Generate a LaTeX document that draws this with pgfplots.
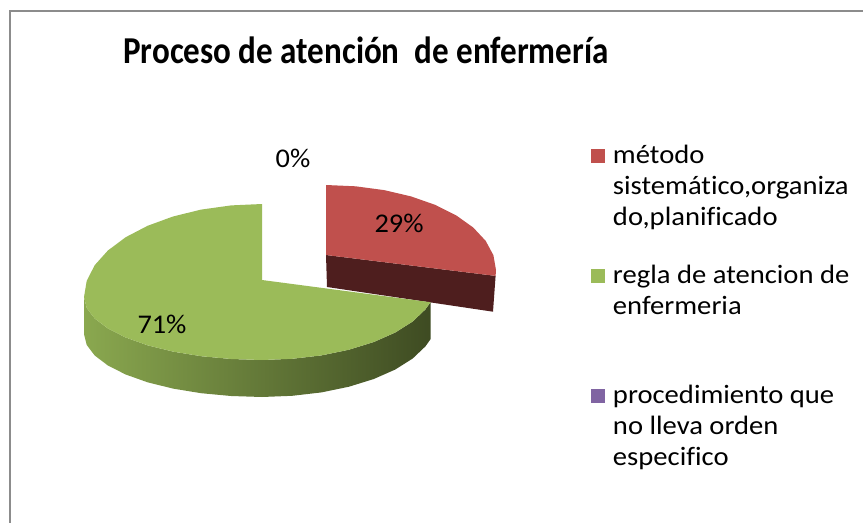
\documentclass[border=0pt]{standalone}
\usepackage{fontspec}
\setmainfont{Carlito}[Ligatures=NoCommon]
\newfontfamily\legfont{Carlito}[Ligatures=NoCommon, FakeStretch=1.08]
\newfontfamily\labfont{Carlito}[Ligatures=NoCommon, FakeStretch=1.05]
\newfontfamily\titfont{Carlito}[Ligatures=NoCommon, FakeStretch=0.87]
\usepackage{pgfplots}
\pgfplotsset{compat=1.18}
\definecolor{redtop}{HTML}{C0504D}
\definecolor{reddark}{HTML}{4E1E1E}
\definecolor{greentop}{HTML}{9BBB59}
\definecolor{wallL}{HTML}{8AA84F}
\definecolor{wallM}{HTML}{55682D}
\definecolor{wallR}{HTML}{3E4B22}
\definecolor{lilac}{HTML}{8064A2}
\definecolor{frame}{HTML}{8C8C8C}

\begin{document}
\begin{tikzpicture}
% pie drawn in picture pixels (y downwards); shares: 29 % / 71 % / 0 %
\begin{axis}[
  name=ax, scale only axis, width=863bp, height=523bp,
  xmin=0, xmax=863, ymin=0, ymax=523, y dir=reverse,
  hide axis, clip=false,
  legend image code/.code={\fill[#1] (0bp,0bp) rectangle (14bp,14bp);},
  legend style={at={(0.6848,0.7246)}, anchor=north west, draw=none, fill=none,
    inner sep=0pt, outer sep=0pt, row sep=6bp, column sep=8bp,
    cells={anchor=base west},
    nodes={inner sep=0pt, text height=19bp, text depth=95bp},
    font=\legfont\fontsize{26.5bp}{31bp}\selectfont},
]
% chart frame
\addplot[draw=frame, line width=2bp, forget plot] coordinates {(10,523) (10,11) (863,11)};

% 29 % slice (exploded): cut face, then top
\addplot[fill=reddark, draw=none, forget plot] coordinates
  {(326,255) (495.6,275.9) (493,311.7) (327,287)};
\addplot[fill=redtop, draw=none] coordinates
  {(326,255) (326,185) (355.5,186.3) (384.1,190.1) (411,196.4) (435.3,204.9)
   (456.2,215.4) (473.2,227.5) (485.7,240.9) (493.4,255.2) (496,270) (495.6,275.9)};
\addlegendentry{\parbox[t]{260bp}{método\\sistemático,organiza\\do,planificado}}

% 71 % slice: side wall, then top
\addplot[draw=none, left color=wallL, middle color=wallM, right color=wallR, forget plot] coordinates
  {(84,297) (86.7,307.9) (94.7,318.5) (107.9,328.5) (125.7,337.5) (147.6,345.3)
   (173,351.6) (201.1,356.2) (231.1,359) (262,360) (292.2,358.8) (321.5,355.4)
   (349,349.7) (373.8,342) (395.3,332.5) (412.7,321.5) (425.5,309.3) (430.5,302.2)
   (430.5,339.2) (425.5,346.3) (412.7,358.5) (395.3,369.5) (373.8,379) (349,386.7)
   (321.5,392.4) (292.2,395.8) (262,397) (231.1,396) (201.1,393.2) (173,388.6)
   (147.6,382.3) (125.7,374.5) (107.9,365.5) (94.7,355.5) (86.7,344.9) (84,334)};
\addplot[fill=greentop, draw=none] coordinates
  {(262,280) (262,204) (231.1,205.4) (201.1,209.6) (173,216.5) (147.6,225.8)
   (125.7,237.2) (107.9,250.5) (94.7,265.2) (86.7,280.9) (84,297) (86.7,307.9)
   (94.7,318.5) (107.9,328.5) (125.7,337.5) (147.6,345.3) (173,351.6) (201.1,356.2)
   (231.1,359) (262,360) (292.2,358.8) (321.5,355.4) (349,349.7) (373.8,342)
   (395.3,332.5) (412.7,321.5) (425.5,309.3) (430.5,302.2)};
\addlegendentry{\parbox[t]{260bp}{regla de atencion de\\enfermeria}}

% 0 % slice: legend only
\addlegendimage{fill=lilac, draw=none}
\addlegendentry{\parbox[t]{260bp}{procedimiento que\\no lleva orden\\especifico}}

\node[anchor=base, font=\titfont\fontsize{38bp}{42bp}\selectfont\bfseries]
  at (axis cs:366,64) {Proceso de atención\ \ de enfermería};
\node[anchor=base, font=\labfont\fontsize{27bp}{32bp}\selectfont] at (axis cs:293,167) {0\%};
\node[anchor=base, font=\labfont\fontsize{27bp}{32bp}\selectfont] at (axis cs:399,232) {29\%};
\node[anchor=base, font=\labfont\fontsize{27bp}{32bp}\selectfont] at (axis cs:162,333) {71\%};
\end{axis}
\pgfresetboundingbox
\path[use as bounding box] (ax.south west) rectangle (ax.north east);
\end{tikzpicture}
\end{document}
